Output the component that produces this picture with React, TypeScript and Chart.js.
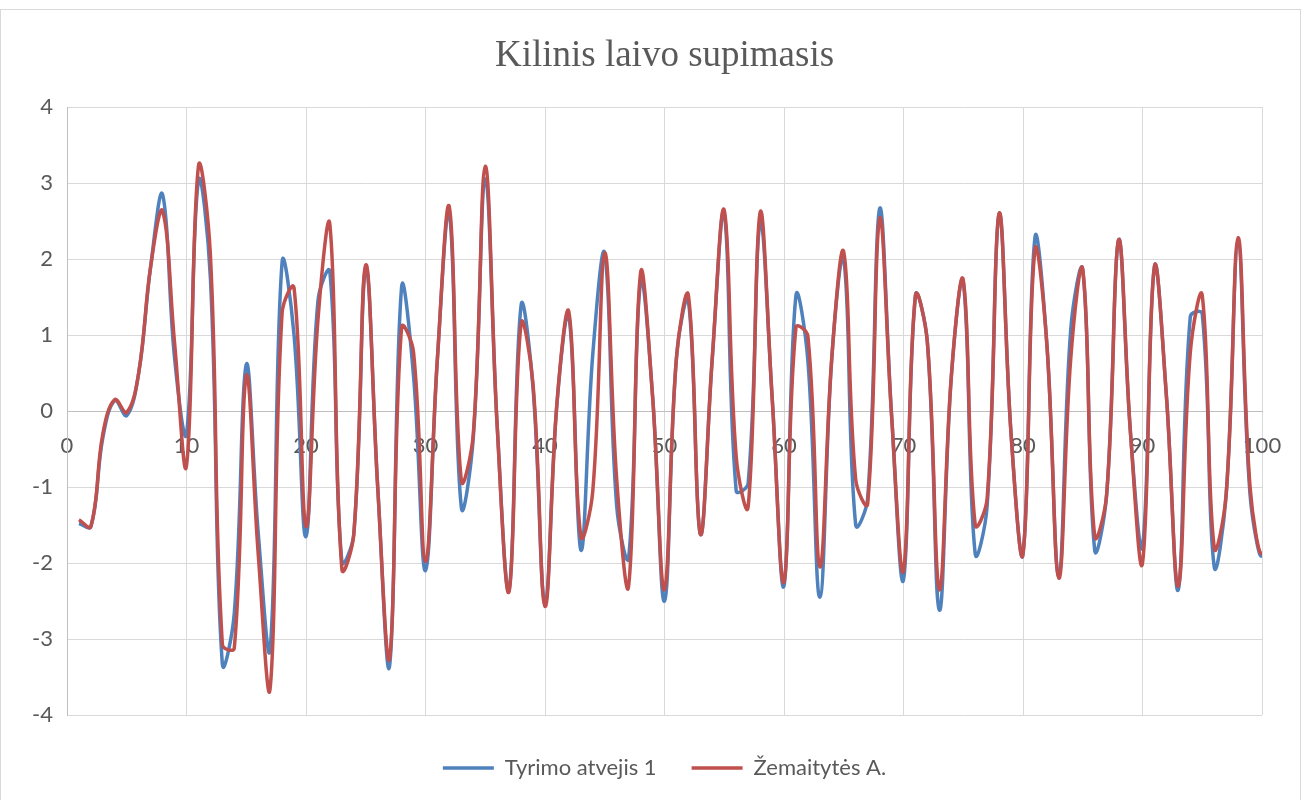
import React, { useEffect, useRef } from 'react';
import { Chart, registerables } from 'chart.js';

Chart.register(...registerables);

const chartTitle = 'Kilinis laivo supimasis';
const seriesNames = ['Tyrimo atvejis 1', 'Žemaitytės A.'];
const seriesColors = ['#4F81BD', '#C0504D'];

const times = [
  1, 2, 3, 4, 5, 6, 7, 8, 9, 10,
  11, 12, 13, 14, 15, 16, 17, 18, 19, 20,
  21, 22, 23, 24, 25, 26, 27, 28, 29, 30,
  31, 32, 33, 34, 35, 36, 37, 38, 39, 40,
  41, 42, 43, 44, 45, 46, 47, 48, 49, 50,
  51, 52, 53, 54, 55, 56, 57, 58, 59, 60,
  61, 62, 63, 64, 65, 66, 67, 68, 69, 70,
  71, 72, 73, 74, 75, 76, 77, 78, 79, 80,
  81, 82, 83, 84, 85, 86, 87, 88, 89, 90,
  91, 92, 93, 94, 95, 96, 97, 98, 99, 100,
  101,
];

const tyrimo = [
  -1.48, -1.52, -0.35, 0.14, -0.06, 0.5, 1.9, 2.85, 0.7, -0.3,
  3.03, 1.75, -3.33, -2.66, 0.61, -1.6, -3.13, 1.96, 1.0, -1.65,
  1.45, 1.83, -1.98, -1.62, 1.88, -1.0, -3.35, 1.63, 0.46, -2.1,
  0.7, 2.6, -1.27, -0.35, 3.05, -0.2, -2.35, 1.39, 0.3, -2.52,
  0.1, 1.25, -1.83, 0.75, 2.07, -1.25, -1.93, 1.7, 0.2, -2.5,
  0.7, 1.45, -1.62, 0.7, 2.6, -1.05, -0.95, 2.48, 0.2, -2.3,
  1.52, 0.66, -2.45, 0.7, 2.0, -1.5, -1.15, 2.66, -0.05, -2.22,
  1.52, 0.9, -2.62, 0.45, 1.7, -1.88, -1.25, 2.59, -0.3, -1.88,
  2.28, 0.87, -2.17, 1.08, 1.86, -1.83, -1.1, 2.25, -0.3, -1.78,
  1.9, 0.2, -2.35, 1.24, 1.28, -2.05, -1.1, 2.17, -1.1, -1.87,
  2.0,
];

const zemaitytes = [
  -1.43, -1.52, -0.3, 0.15, -0.02, 0.5, 1.9, 2.63, 0.9, -0.72,
  3.22, 2.05, -3.07, -3.12, 0.46, -1.88, -3.65, 1.29, 1.62, -1.52,
  1.2, 2.45, -2.08, -1.62, 1.92, -1.0, -3.25, 1.1, 0.77, -1.98,
  0.7, 2.68, -0.92, -0.3, 3.22, -0.2, -2.37, 1.15, 0.35, -2.57,
  0.1, 1.3, -1.65, -1.05, 2.08, -0.9, -2.3, 1.82, 0.2, -2.35,
  0.7, 1.52, -1.62, 0.7, 2.64, -0.6, -1.26, 2.61, 0.2, -2.25,
  1.1, 0.98, -2.05, 0.7, 2.09, -0.9, -1.22, 2.53, -0.05, -2.1,
  1.52, 0.9, -2.35, 0.45, 1.72, -1.5, -1.15, 2.6, -0.3, -1.88,
  2.12, 0.87, -2.2, 0.7, 1.86, -1.65, -1.1, 2.25, -0.3, -2.0,
  1.9, 0.2, -2.3, 0.77, 1.52, -1.8, -1.1, 2.28, -1.0, -1.85,
  0.5,
];

const xTickValues = [0, 10, 20, 30, 40, 50, 60, 70, 80, 90, 100];
const yTickValues = [-4, -3, -2, -1, 0, 1, 2, 3, 4];

const CANVAS_W = 1299;
const CANVAS_H = 790;

export default function App() {
  const canvasRef = useRef<HTMLCanvasElement | null>(null);

  useEffect(() => {
    const canvas = canvasRef.current;
    if (!canvas) return;
    const seriesValues = [tyrimo, zemaitytes];
    const chart = new Chart(canvas, {
      type: 'line',
      data: {
        datasets: seriesNames.map((name, i) => ({
          label: name,
          data: times.map((t, j) => ({ x: t, y: seriesValues[i][j] })),
          borderColor: seriesColors[i],
          backgroundColor: seriesColors[i],
          borderWidth: 3.5,
          pointRadius: 0,
          pointHoverRadius: 0,
          tension: 0.4,
          fill: false,
          order: seriesNames.length - i,
        })),
      },
      options: {
        responsive: false,
        animation: false,
        events: [],
        layout: { padding: { left: 0, right: 38, top: 0, bottom: 11 } },
        plugins: {
          title: {
            display: true,
            text: chartTitle,
            fullSize: false,
            color: '#595959',
            font: { family: '"Liberation Serif", "Times New Roman", serif', size: 37, weight: 'normal' },
            padding: { top: 24.5, bottom: 28.1 },
          },
          legend: {
            display: true,
            position: 'bottom',
            fullSize: false,
            title: { display: true, text: '', font: { size: 5 }, padding: { top: 1, bottom: 0 } },
            labels: {
              boxWidth: 51,
              boxHeight: 0,
              padding: 35,
              color: '#595959',
              font: { family: 'Lato, "Liberation Sans", sans-serif', size: 22 },
              sort: (a: any, b: any) => a.datasetIndex - b.datasetIndex,
            },
          },
          tooltip: { enabled: false },
        },
        scales: {
          x: {
            type: 'linear',
            position: { y: 0 } as any,
            min: 0,
            max: 100,
            afterBuildTicks: (s: any) => {
              s.ticks = xTickValues.map((v) => ({ value: v }));
            },
            grid: {
              color: '#d9d9d9',
              lineWidth: 1,
              drawTicks: true,
              tickLength: 19,
              tickColor: 'rgba(0,0,0,0)',
            },
            border: { display: true, color: '#bfbfbf', width: 1 },
            ticks: {
              padding: 3,
              color: '#595959',
              font: { family: 'Lato, "Liberation Sans", sans-serif', size: 22 },
              maxRotation: 0,
              autoSkip: false,
            },
          },
          y: {
            type: 'linear',
            position: 'left',
            min: -4,
            max: 4,
            afterBuildTicks: (s: any) => {
              s.ticks = yTickValues.map((v) => ({ value: v }));
            },
            afterFit: (s: any) => {
              s.width = 66;
            },
            grid: { color: '#d9d9d9', lineWidth: 1, drawTicks: false },
            border: { display: true, color: '#bfbfbf', width: 1 },
            ticks: {
              padding: 14,
              color: '#595959',
              font: { family: 'Lato, "Liberation Sans", sans-serif', size: 22 },
            },
          },
        },
      },
    });
    return () => chart.destroy();
  }, []);

  return (
    <div
      style={{
        position: 'absolute',
        left: 0,
        top: 9,
        width: CANVAS_W,
        height: CANVAS_H,
        border: '1px solid #d9d9d9',
        background: '#ffffff',
      }}
    >
      <canvas
        ref={canvasRef}
        width={CANVAS_W}
        height={CANVAS_H}
        style={{ display: 'block', width: CANVAS_W, height: CANVAS_H }}
      />
    </div>
  );
}
